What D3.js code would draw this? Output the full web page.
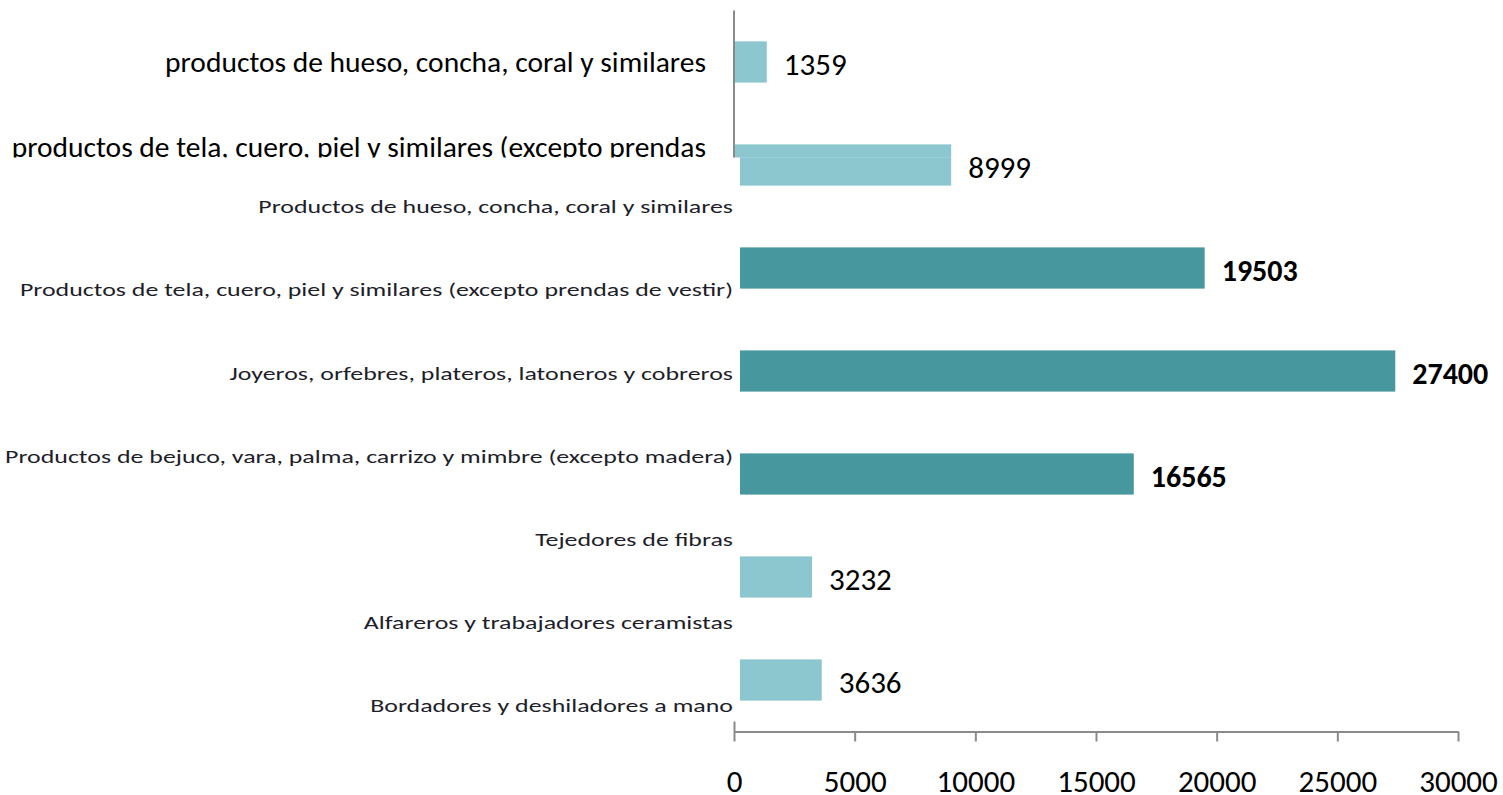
<!DOCTYPE html>
<html>
<head>
<meta charset="utf-8">
<script src="https://cdn.jsdelivr.net/npm/d3@7/dist/d3.min.js"></script>
<style>
  html, body { margin: 0; padding: 0; background: #fff; }
  svg { display: block; }
</style>
</head>
<body>
<svg id="chart" width="1503" height="795"></svg>
<script>
// Row labels of the chart (category column)
const rowLabels = [
  "Productos de hueso, concha, coral y similares",
  "Productos de tela, cuero, piel y similares (excepto prendas de vestir)",
  "Joyeros, orfebres, plateros, latoneros y cobreros",
  "Productos de bejuco, vara, palma, carrizo  y mimbre (excepto madera)",
  "Tejedores de fibras",
  "Alfareros y trabajadores ceramistas",
  "Bordadores y deshiladores a mano"
];
// Header rows (larger type) sitting over the top of the plot
const headerLabels = [
  "productos de hueso, concha, coral y similares",
  "productos de tela, cuero, piel y similares (excepto prendas"
];
// Bar values, top to bottom
const barKeys = ["b1", "b2", "b3", "b4", "b5", "b6", "b7"];
const barValues = [1359, 8999, 19503, 27400, 16565, 3232, 3636];
const highlighted = [false, false, true, true, true, false, false];
// Axis ticks
const xTicks = [0, 5000, 10000, 15000, 20000, 25000, 30000];

const FONT = "Carlito, Calibri, Lato, sans-serif";
const LIGHT = "#8cc6ce", DARK = "#46979e", AXIS = "#8a8a8a";

const svg = d3.select("#chart");
const x = d3.scaleLinear().domain([0, 30000]).range([734, 1458]);
const y = d3.scaleBand().domain(barKeys).range([10.5, 731.5]).paddingInner(0.6).paddingOuter(0.3);
const labelY = d3.scalePoint().domain(rowLabels).range([207, 706]);
const headerY = d3.scalePoint().domain(headerLabels).range([62, 147]);

const bars = barKeys.map((k, i) => ({ key: k, value: barValues[i], hi: highlighted[i] }));

// Main plot layer
const main = svg.append("g");
main.selectAll("rect.bar").data(bars).join("rect")
  .attr("class", "bar")
  .attr("x", x(0) + 6)
  .attr("y", d => y(d.key))
  .attr("width", d => x(d.value) - x(0) - 6)
  .attr("height", y.bandwidth())
  .attr("fill", d => d.hi ? DARK : LIGHT);

// Category column: wide, compact lettering, right-aligned against the plot
const rows = main.append("g").attr("transform", "translate(733,0) scale(1.44,1)");
rows.selectAll("text.row").data(rowLabels).join("text")
  .attr("class", "row")
  .attr("x", 0)
  .attr("y", d => labelY(d))
  .attr("dy", "0.35em")
  .attr("text-anchor", "end")
  .attr("font-family", FONT)
  .attr("font-size", 18)
  .attr("fill", "#1e1e2a")
  .text(d => d);

// Header panel over the top of the plot
const clip = svg.append("clipPath").attr("id", "hdr-clip");
clip.append("rect").attr("x", 0).attr("y", 0).attr("width", 1503).attr("height", 157.5);
const hdr = svg.append("g").attr("clip-path", "url(#hdr-clip)");
hdr.append("rect").attr("x", 0).attr("y", 0).attr("width", 1503).attr("height", 157.5).attr("fill", "#fff");
hdr.selectAll("rect.bar").data(bars.slice(0, 2)).join("rect")
  .attr("class", "bar")
  .attr("x", x(0))
  .attr("y", d => y(d.key))
  .attr("width", d => x(d.value) - x(0))
  .attr("height", y.bandwidth())
  .attr("fill", LIGHT);
hdr.append("line")
  .attr("x1", x(0)).attr("x2", x(0))
  .attr("y1", y.range()[0]).attr("y2", 160)
  .attr("stroke", AXIS).attr("stroke-width", 2);
hdr.selectAll("text.hdr").data(headerLabels).join("text")
  .attr("class", "hdr")
  .attr("x", 706)
  .attr("y", d => headerY(d))
  .attr("dy", "0.35em")
  .attr("text-anchor", "end")
  .attr("font-family", FONT)
  .attr("font-size", 29.5)
  .attr("fill", "#000")
  .text(d => d);

// Value labels
svg.selectAll("text.val").data(bars).join("text")
  .attr("class", "val")
  .attr("x", d => x(d.value) + 17)
  .attr("y", d => y(d.key) + y.bandwidth() / 2 + 2)
  .attr("dy", "0.35em")
  .attr("font-family", FONT)
  .attr("font-size", d => d.hi ? 30 : 31)
  .attr("font-weight", d => d.hi ? 700 : 400)
  .attr("fill", "#000")
  .text(d => d.value);

// Bottom axis
const axis = svg.append("g")
  .attr("transform", `translate(0,${y.range()[1]})`)
  .call(d3.axisBottom(x).tickValues(xTicks).tickSizeInner(10).tickSizeOuter(0).tickPadding(28).tickFormat(d3.format("d")));
axis.select(".domain").attr("stroke", AXIS).attr("stroke-width", 2);
axis.selectAll(".tick line").attr("stroke", AXIS).attr("stroke-width", 2)
  .attr("y1", d => d === 0 ? -10 : 0);
axis.selectAll(".tick text").attr("font-family", FONT).attr("font-size", 31).attr("fill", "#000");
</script>
</body>
</html>
